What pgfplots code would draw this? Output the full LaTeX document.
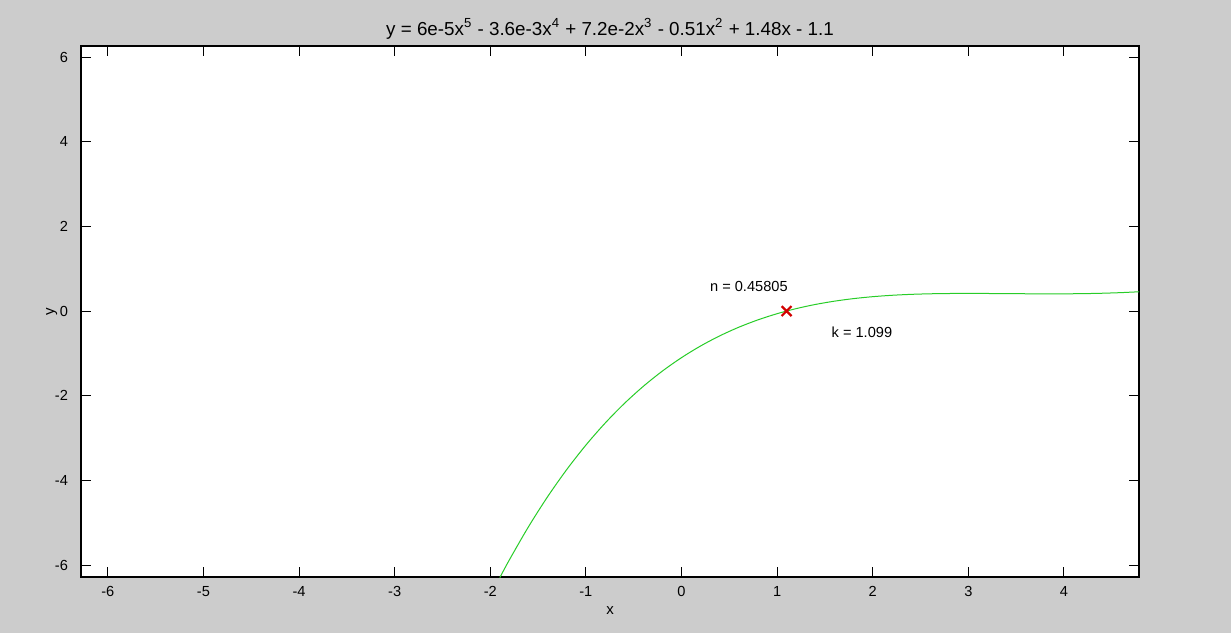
\documentclass[border=0pt]{standalone}
\usepackage{pgfplots}
\pgfplotsset{compat=1.18}
\usepackage{fontspec}
\setmainfont{Liberation Sans}
\definecolor{figbg}{RGB}{204,204,204}
\definecolor{curvegreen}{RGB}{40,205,40}
\definecolor{markred}{RGB}{210,0,0}
\begin{document}
\begin{tikzpicture}[x=1pt,y=1pt]
% figure background (1 px = 0.5 pt)
\fill[figbg] (-40.5pt,-28pt) rectangle (575pt,288.5pt);
\begin{axis}[
  at={(0,0)}, anchor=south west,
  scale only axis, width=529pt, height=265.5pt,
  xmin=-6.28, xmax=4.785, ymin=-6.28, ymax=6.26,
  axis background/.style={fill=white},
  axis line style={black, line width=0.6pt},
  xtick={-6,-5,...,4},
  xticklabels={-6,-5,-4,-3,-2,-1,0,1,2,3,4},
  ytick={-6,-4,...,6},
  yticklabels={-6,-4,-2,0,2,4,6},
  tick align=inside, major tick length=5pt,
  tick style={black, line width=0.5pt},
  xtick pos=both, ytick pos=both,
  ticklabel style={font=\fontsize{7.3}{8}\selectfont},
  xticklabel style={yshift=-1pt},
  yticklabel style={xshift=-3pt},
  title={y = 6e-5x\textsuperscript{5} - 3.6e-3x\textsuperscript{4} + 7.2e-2x\textsuperscript{3} - 0.51x\textsuperscript{2} + 1.48x - 1.1},
  title style={font=\fontsize{9.4}{11}\selectfont, yshift=-6pt},
  xlabel={x}, ylabel={y},
  label style={font=\fontsize{7.5}{9}\selectfont},
  xlabel style={yshift=2pt},
  ylabel style={yshift=-8pt},
  clip=true,
]
\addplot[curvegreen, line width=0.5pt, smooth, tension=0.5] coordinates {
(-1.9,-6.2953) (-1.8,-5.8752) (-1.6,-5.0927) (-1.4,-4.3833) (-1.2,-3.7424)
(-1.0,-3.1657) (-0.8,-2.6488) (-0.6,-2.1876) (-0.4,-1.7783) (-0.2,-1.4170)
(0.0,-1.1000) (0.2,-0.8238) (0.4,-0.5851) (0.6,-0.3805) (0.8,-0.2070)
(1.0,-0.0615) (1.2,0.0587) (1.4,0.1565) (1.6,0.2343) (1.8,0.2948)
(2.0,0.3403) (2.2,0.3730) (2.4,0.3951) (2.6,0.4085) (2.8,0.4152)
(3.0,0.4170) (3.2,0.4155) (3.4,0.4125) (3.6,0.4093) (3.8,0.4073)
(4.0,0.4078) (4.2,0.4121) (4.4,0.4213) (4.6,0.4363) (4.8,0.4581)
};
\addplot[only marks, mark=x, mark size=3.5pt, markred, line width=1.1pt] coordinates {(1.099,0)};
\node[font=\fontsize{7.3}{8}\selectfont] at (axis cs:0.705,0.59) {n = 0.45805};
\node[font=\fontsize{7.3}{8}\selectfont] at (axis cs:1.887,-0.50) {k = 1.099};
\end{axis}
\end{tikzpicture}
\end{document}
